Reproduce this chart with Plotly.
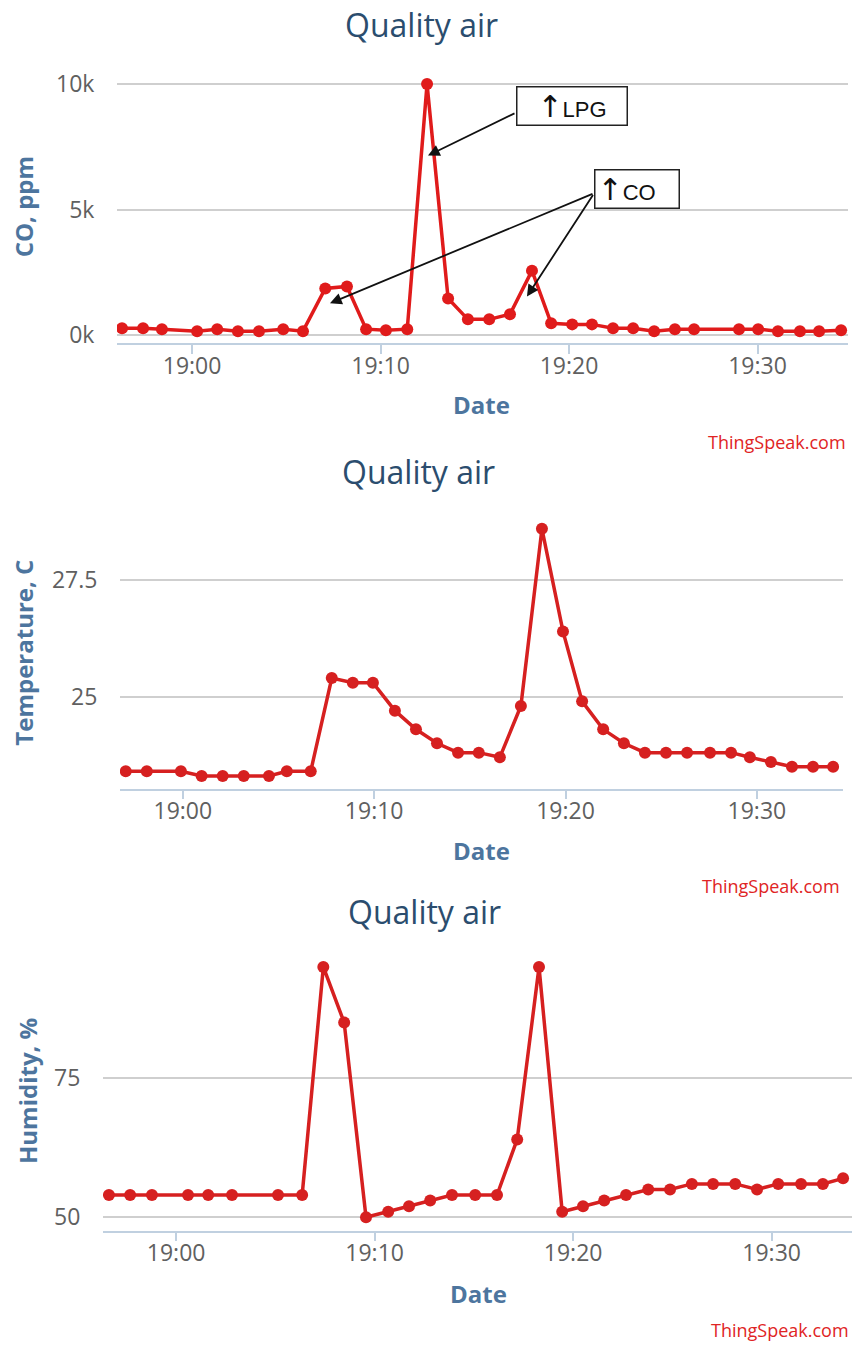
import plotly.graph_objects as go

DAY = "2016-05-20 "

# ---------------- Data ----------------
co_times = ["18:56:17", "18:57:24", "18:58:24", "19:00:16", "19:01:20", "19:02:26",
            "19:03:33", "19:04:50", "19:05:53", "19:07:04", "19:08:13", "19:09:14",
            "19:10:17", "19:11:25", "19:12:28", "19:13:35", "19:14:38", "19:15:46",
            "19:16:52", "19:18:02", "19:19:03", "19:20:10", "19:21:13", "19:22:20",
            "19:23:24", "19:24:31", "19:25:37", "19:26:38", "19:29:01", "19:30:02",
            "19:31:05", "19:32:15", "19:33:16", "19:34:26"]
co_ppm = [280, 280, 240, 160, 240, 160, 160, 240, 160, 1860, 1940, 240,
          200, 240, 10000, 1460, 630, 630, 830, 2570, 470, 430, 430, 280,
          280, 160, 240, 240, 240, 240, 160, 160, 160, 200]

temp_times = ["18:57:01", "18:58:07", "18:59:54", "19:00:59", "19:02:05", "19:03:11",
              "19:04:30", "19:05:26", "19:06:41", "19:07:47", "19:08:53", "19:09:56",
              "19:11:05", "19:12:11", "19:13:17", "19:14:23", "19:15:28", "19:16:34",
              "19:17:40", "19:18:46", "19:19:52", "19:20:52", "19:21:58", "19:23:03",
              "19:24:09", "19:25:15", "19:26:21", "19:27:33", "19:28:39", "19:29:38",
              "19:30:44", "19:31:50", "19:32:56", "19:33:59"]
temp_c = [23.4, 23.4, 23.4, 23.3, 23.3, 23.3, 23.3, 23.4, 23.4, 25.4, 25.3, 25.3,
          24.7, 24.3, 24.0, 23.8, 23.8, 23.7, 24.8, 28.6, 26.4, 24.9, 24.3, 24.0,
          23.8, 23.8, 23.8, 23.8, 23.8, 23.7, 23.6, 23.5, 23.5, 23.5]

hum_times = ["18:56:37", "18:57:41", "18:58:47", "19:00:36", "19:01:37", "19:02:49",
             "19:05:08", "19:06:21", "19:07:25", "19:08:28", "19:09:34", "19:10:41",
             "19:11:44", "19:12:48", "19:13:54", "19:15:04", "19:16:10", "19:17:11",
             "19:18:17", "19:19:27", "19:20:30", "19:21:34", "19:22:40", "19:23:47",
             "19:24:53", "19:25:59", "19:27:03", "19:28:10", "19:29:16", "19:30:20",
             "19:31:29", "19:32:35", "19:33:36"]
hum_pct = [54, 54, 54, 54, 54, 54, 54, 54, 95, 85, 50, 51,
           52, 53, 54, 54, 54, 64, 95, 51, 52, 53, 54, 55,
           55, 56, 56, 56, 55, 56, 56, 56, 57]

x_tick_times = ["19:00", "19:10", "19:20", "19:30"]
co_ticks = [0, 5000, 10000]
co_tick_text = ["0k", "5k", "10k"]
temp_ticks = [25, 27.5]
hum_ticks = [50, 75]

# annotation targets (time, value) for the CO chart
lpg_target = ("19:12:31", 7150)
co_target1 = ("19:07:19", 1270)
co_target2 = ("19:17:46", 1540)

# ---------------- Styling ----------------
W, H = 852, 1349
TITLE_C = "#2b4d6e"
AXT_C = "#4d759e"
LBL_C = "#606060"
GRID_C = "#cfcfcf"
AXLINE_C = "#c0d0e0"
RED = "#d62020"
FONT = "Open Sans"


def px(x):
    return x / W


def py(y):
    return 1 - y / H


def full(tlist):
    return [DAY + t for t in tlist]


fig = go.Figure()

fig.add_trace(go.Scatter(x=full(co_times), y=co_ppm, mode="lines+markers",
                         line=dict(color="#e01b1b", width=3.5),
                         marker=dict(color="#e01b1b", size=12),
                         xaxis="x", yaxis="y"))
fig.add_trace(go.Scatter(x=full(temp_times), y=temp_c, mode="lines+markers",
                         line=dict(color=RED, width=3.5),
                         marker=dict(color=RED, size=12),
                         xaxis="x2", yaxis="y2"))
fig.add_trace(go.Scatter(x=full(hum_times), y=hum_pct, mode="lines+markers",
                         line=dict(color=RED, width=3.5),
                         marker=dict(color=RED, size=12),
                         xaxis="x3", yaxis="y3"))

panels = [
    # x px range, x time range, y px (bottom, top), y range
    dict(xd=(117, 848), xr=("18:56:01", "19:34:48"), yd=(342, 68), yr=(-320, 10500)),
    dict(xd=(120, 843), xr=("18:56:43", "19:34:30"), yd=(791, 516), yr=(23.03, 28.88)),
    dict(xd=(103, 852), xr=("18:56:19", "19:34:03"), yd=(1236.7, 958), yr=(47.6, 97.3)),
]
ytickvals = [co_ticks, temp_ticks, hum_ticks]
yticktext = [co_tick_text, ["25", "27.5"], ["50", "75"]]

layout = {}
for i, p in enumerate(panels):
    sfx = "" if i == 0 else str(i + 1)
    layout["xaxis" + sfx] = dict(
        domain=[px(p["xd"][0]), px(p["xd"][1])],
        range=[DAY + p["xr"][0], DAY + p["xr"][1]],
        anchor="y" + sfx, type="date",
        tickvals=[DAY + t + ":00" for t in x_tick_times],
        ticktext=x_tick_times,
        showgrid=False, zeroline=False,
        showline=True, linecolor=AXLINE_C, linewidth=1.5,
        ticks="outside", ticklen=9, tickwidth=1.5, tickcolor=AXLINE_C,
        ticklabelstandoff=-8,
        tickfont=dict(family=FONT, size=23, color=LBL_C),
        fixedrange=True,
    )
    layout["yaxis" + sfx] = dict(
        domain=[py(p["yd"][0]), py(p["yd"][1])],
        range=list(p["yr"]),
        anchor="x" + sfx,
        tickvals=ytickvals[i], ticktext=yticktext[i],
        showgrid=True, gridcolor=GRID_C, gridwidth=1.5,
        zeroline=False, showline=False,
        ticks="outside", ticklen=17, tickcolor="rgba(0,0,0,0)",
        tickfont=dict(family=FONT, size=23, color=LBL_C),
        fixedrange=True,
    )

annotations = []
# chart titles
for (cx, cy) in [(421, 21), (418, 471), (424, 915)]:
    annotations.append(dict(text="Quality air", x=px(cx), y=py(cy), xref="paper", yref="paper",
                            showarrow=False, xanchor="center", yanchor="middle",
                            font=dict(family=FONT, size=32, color=TITLE_C)))
# y-axis titles
for (txt, cx, cy) in [("CO, ppm", 23, 205), ("Temperature, C", 24, 654), ("Humidity, %", 27, 1096)]:
    annotations.append(dict(text="<b>%s</b>" % txt, x=px(cx), y=py(cy), xref="paper", yref="paper",
                            showarrow=False, textangle=-90, xanchor="center", yanchor="middle",
                            font=dict(family=FONT, size=24, color=AXT_C)))
# x-axis titles
for (cx, cy) in [(482, 404), (481, 853), (478, 1300)]:
    annotations.append(dict(text="<b>Date</b>", x=px(cx), y=py(cy), xref="paper", yref="paper",
                            showarrow=False, xanchor="center", yanchor="middle",
                            font=dict(family=FONT, size=24, color=AXT_C)))
# credits
for (rx, cy) in [(848, 442), (842, 889), (851, 1337)]:
    annotations.append(dict(text="ThingSpeak.com", x=px(rx), y=py(cy), xref="paper", yref="paper",
                            showarrow=False, xanchor="right", yanchor="middle",
                            font=dict(family=FONT, size=18, color="#e02424")))

# annotation boxes
ARROW_SPAN = "<span style='font-family:DejaVu Sans;font-size:30px'>↑</span>"
annotations.append(dict(text=ARROW_SPAN + "LPG", x=px(516), y=py(83),
                        xref="paper", yref="paper", showarrow=False, xanchor="left", yanchor="top",
                        width=105, height=33, align="center", bgcolor="white",
                        bordercolor="#222222", borderwidth=1.5, borderpad=2,
                        font=dict(family="Liberation Sans", size=22, color="#111111")))
annotations.append(dict(text=ARROW_SPAN + "CO", x=px(594), y=py(166),
                        xref="paper", yref="paper", showarrow=False, xanchor="left", yanchor="top",
                        width=79, height=33, align="left", bgcolor="white",
                        bordercolor="#222222", borderwidth=1.5, borderpad=2,
                        font=dict(family="Liberation Sans", size=22, color="#111111")))

# arrows (tips on data coordinates, tails at box edges)
for (tgt, ax, ay) in [(lpg_target, 88, -43), (co_target1, 264, -110), (co_target2, 67, -103)]:
    annotations.append(dict(text="", x=DAY + tgt[0], y=tgt[1], xref="x", yref="y",
                            showarrow=True, ax=ax, ay=ay, axref="pixel", ayref="pixel",
                            arrowhead=2, arrowsize=1.3, arrowwidth=1.8, arrowcolor="#111111"))

fig.update_layout(**layout)
fig.update_layout(width=W, height=H, margin=dict(l=0, r=0, t=0, b=0),
                  paper_bgcolor="white", plot_bgcolor="white", showlegend=False,
                  annotations=annotations)

fig.write_html("out.html", config={"displayModeBar": False},
               post_script="document.body.style.margin='0px';document.body.style.overflow='hidden';")
